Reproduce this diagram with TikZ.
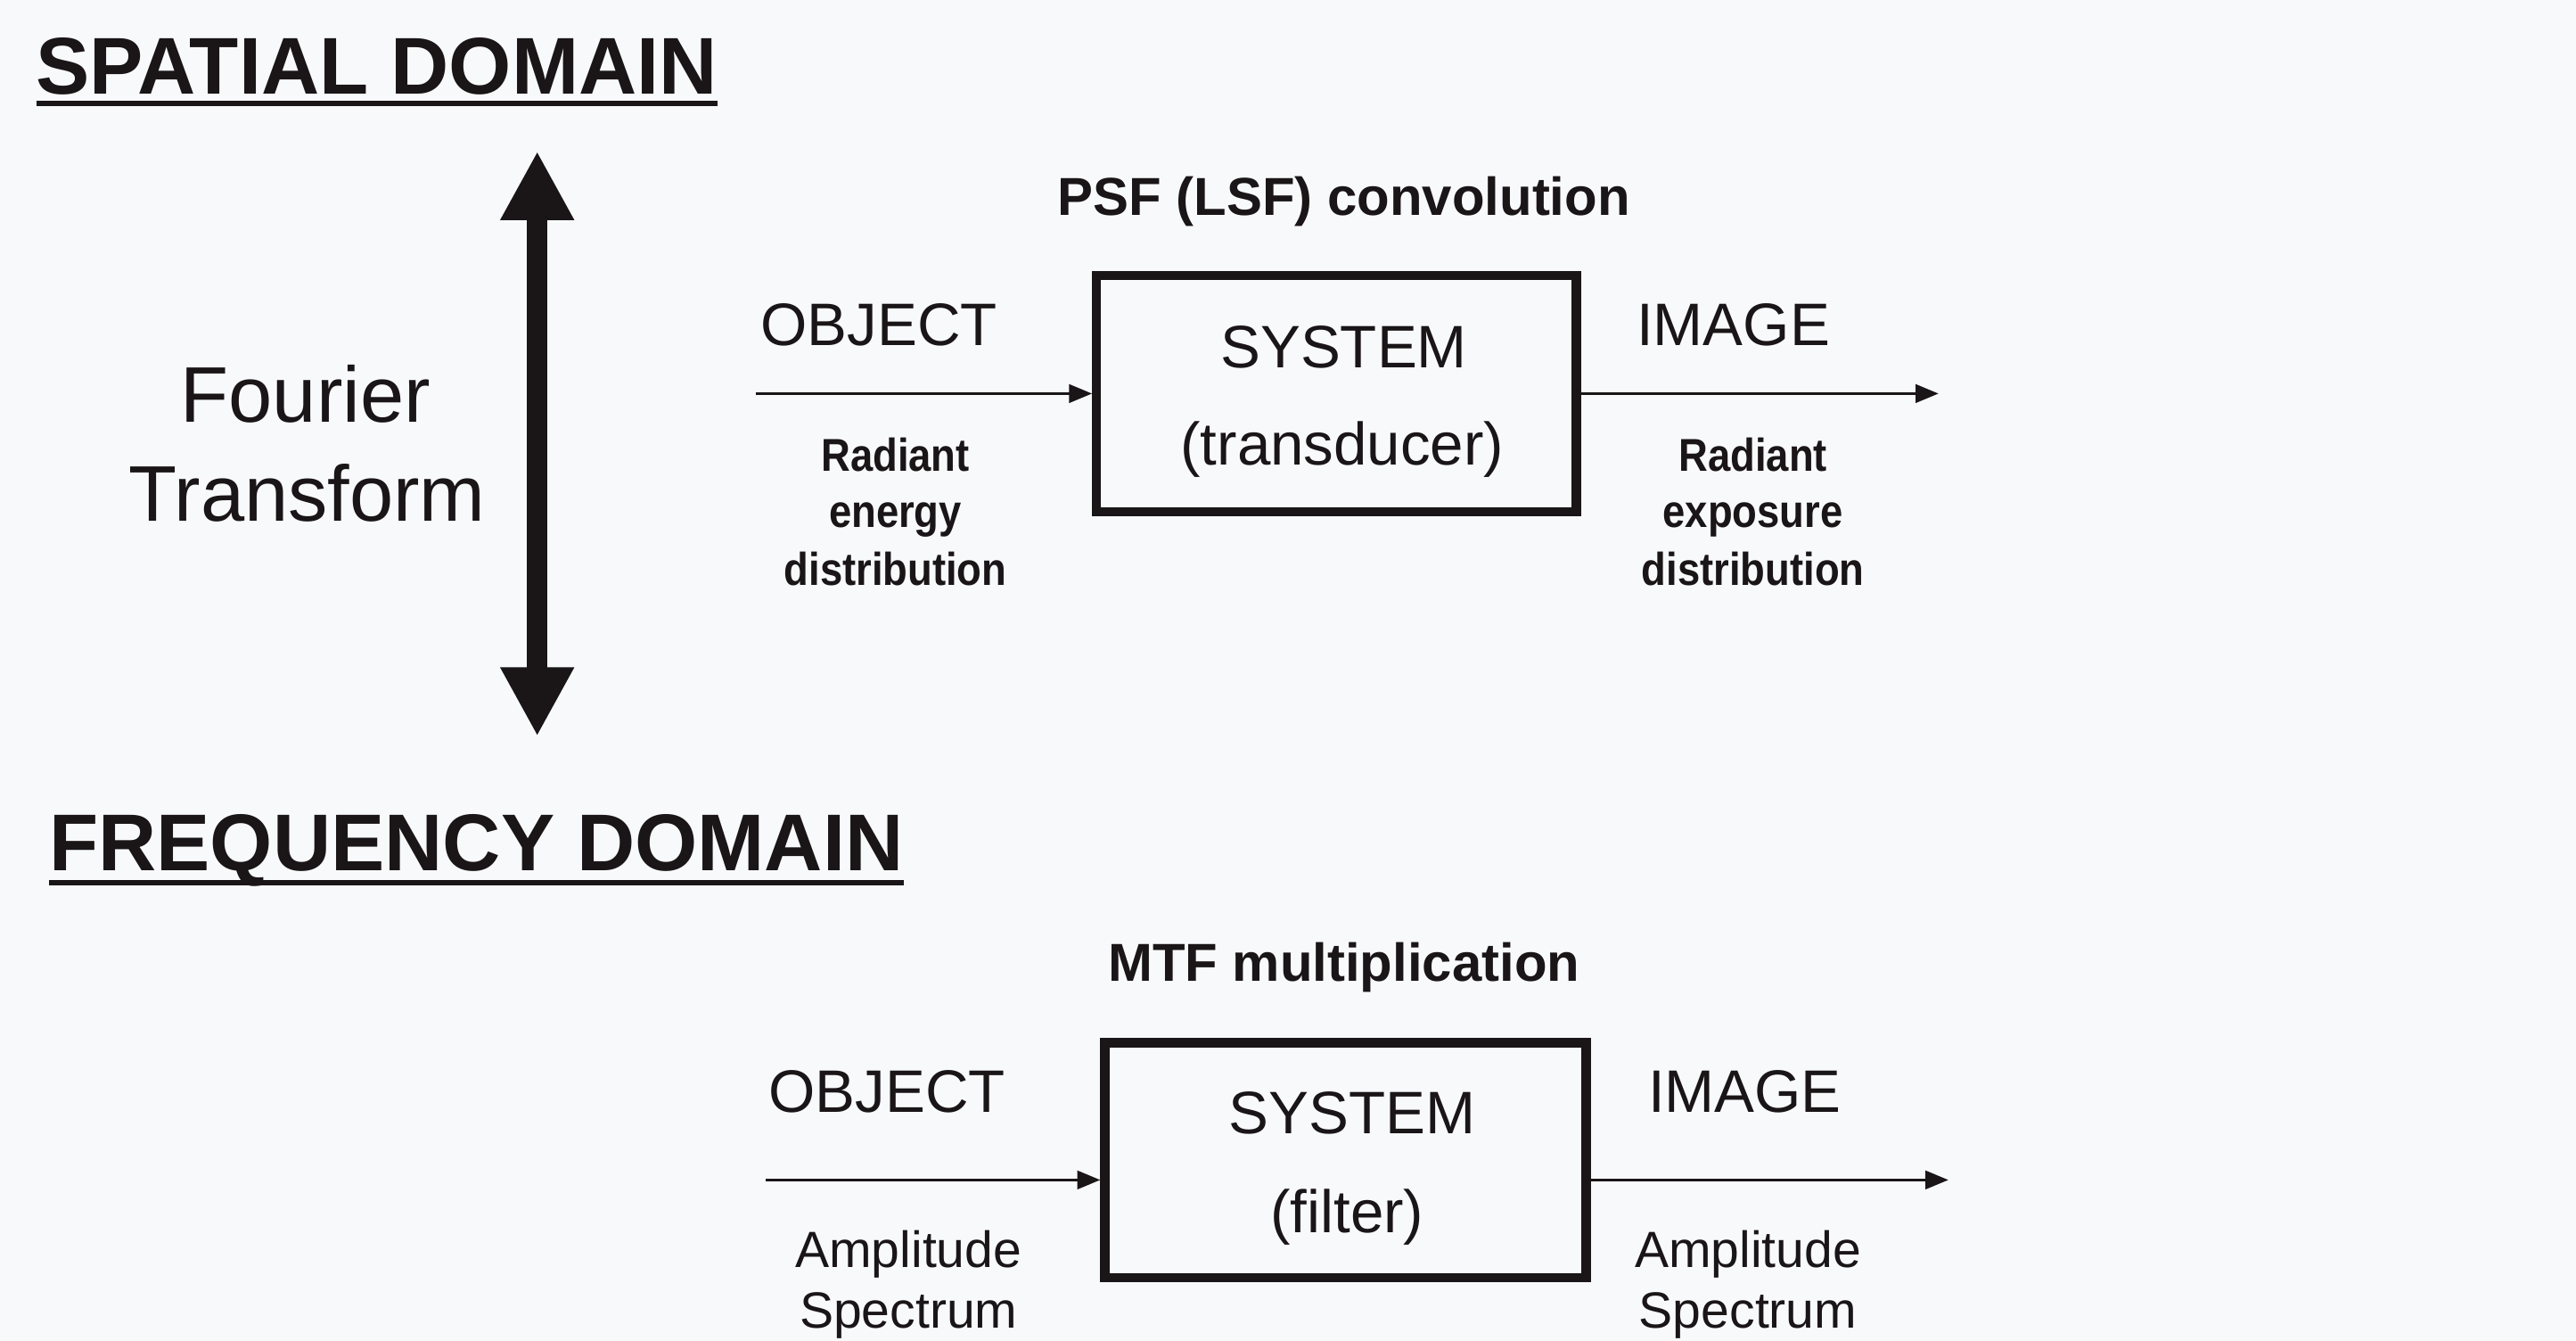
\documentclass[tikz,border=0pt]{standalone}
\usepackage{fontspec}
\setmainfont{Liberation Sans}
\newfontfamily\lblfont[FakeStretch=0.88]{Liberation Sans Bold}
\usetikzlibrary{arrows.meta}
\definecolor{paper}{HTML}{F8F9FB}
\definecolor{ink}{HTML}{1A1517}
\tikzset{
  every node/.style={inner sep=0pt, outer sep=0pt, text=ink},
  heading/.style={anchor=base west, font=\fontsize{49}{58}\selectfont\bfseries},
  caption/.style={anchor=base, font=\fontsize{32.5}{39}\selectfont\bfseries},
  bigtxt/.style={anchor=base, font=\fontsize{36.5}{44}\selectfont},
  fttxt/.style={anchor=base, font=\fontsize{48}{58}\selectfont},
  smalllbl/.style={anchor=base, font=\fontsize{28}{34}\lblfont},
  amplbl/.style={anchor=base, font=\fontsize{31}{37}\selectfont},
  sysbox/.style={draw=ink, line width=5.5pt, outer sep=2.75pt},
  flow/.style={draw=ink, line width=2pt, -{Triangle[length=14pt,width=11pt]}},
  ftarrow/.style={draw=ink, line width=12.5pt,
    {Triangle[length=42pt,width=42pt]}-{Triangle[length=42pt,width=42pt]}},
  rule/.style={draw=ink, line width=3.5pt}
}
\begin{document}
\begin{tikzpicture}[x=1pt, y=-1pt]
  \fill[paper] (0,0) rectangle (1568,816);
  \useasboundingbox (0,0) rectangle (1568,816);

  % ---------- spatial domain ----------
  \node[heading] (spat) at (22,57) {SPATIAL DOMAIN};
  \draw[rule] (spat.base west) ++(0,6) coordinate (su1) -- (su1 -| spat.base east);

  \coordinate (fttop) at (327,92);
  \coordinate (ftbot) at (327,448);
  \draw[ftarrow] (fttop) -- (ftbot);
  \node[fttxt] (ft1) at (186,257) {Fourier};
  \node[fttxt] (ft2) at (187,317) {Transform};

  \node[caption] (psf) at (818,131) {PSF (LSF) convolution};
  \node[sysbox, minimum width=292pt, minimum height=144pt] (box1) at (813.5,239.5) {};
  \node[bigtxt] (sys1) at (818,224) {SYSTEM};
  \node[bigtxt] (trd) at (817,283) {(transducer)};

  \node[bigtxt] (obj1) at (535,210) {OBJECT};
  \node[bigtxt] (img1) at (1055,210) {IMAGE};
  \coordinate (in1) at (460,239.5);
  \coordinate (out1) at (1180,239.5);
  \draw[flow] (in1) -- (box1.west);
  \draw[flow] (box1.east) -- (out1);

  \node[smalllbl] (ra1) at (545,287) {Radiant};
  \node[smalllbl] (ra2) at (545,321) {energy};
  \node[smalllbl] (ra3) at (545,356) {distribution};
  \node[smalllbl] (rb1) at (1067,287) {Radiant};
  \node[smalllbl] (rb2) at (1067,321) {exposure};
  \node[smalllbl] (rb3) at (1067,356) {distribution};

  % ---------- frequency domain ----------
  \node[heading] (freq) at (30,530) {FREQUENCY DOMAIN};
  \draw[rule] (freq.base west) ++(0,7) coordinate (fu1) -- (fu1 -| freq.base east);

  \node[caption] (mtf) at (818,597) {MTF multiplication};
  \node[sysbox, minimum width=293pt, minimum height=143pt] (box2) at (819,706) {};
  \node[bigtxt] (sys2) at (823,690) {SYSTEM};
  \node[bigtxt] (flt) at (820,750) {(filter)};

  \node[bigtxt] (obj2) at (540,677) {OBJECT};
  \node[bigtxt] (img2) at (1062,677) {IMAGE};
  \coordinate (in2) at (466,718);
  \coordinate (out2) at (1186,718);
  \draw[flow] (in2) -- (in2 -| box2.west);
  \draw[flow] (out2 -| box2.east) -- (out2);

  \node[amplbl] (am1) at (553,771) {Amplitude};
  \node[amplbl] (sp1) at (553,808) {Spectrum};
  \node[amplbl] (am2) at (1064,771) {Amplitude};
  \node[amplbl] (sp2) at (1064,808) {Spectrum};
\end{tikzpicture}
\end{document}
